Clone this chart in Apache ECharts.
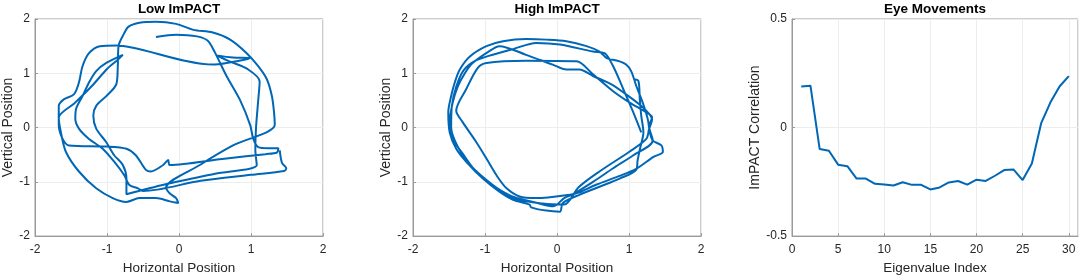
<!DOCTYPE html>
<html>
<head>
<meta charset="utf-8">
<script src="https://cdn.jsdelivr.net/npm/echarts@6/dist/echarts.min.js"></script>
<style>html,body{margin:0;padding:0;background:#fff}#c{width:1084px;height:280px}</style>
</head>
<body>
<div id="c"></div>
<script>
const panelTitles = ['Low ImPACT', 'High ImPACT', 'Eye Movements'];
const xNames = ['Horizontal Position', 'Horizontal Position', 'Eigenvalue Index'];
const yNames = ['Vertical Position', 'Vertical Position', 'ImPACT Correlation'];

// Low ImPACT trajectory [horizontal, vertical]
const lowPath = [
 [-0.32,1.67],[-0.04,1.71],[0.25,1.68],[0.40,1.60],[0.50,1.38],[0.66,0.95],[0.85,0.50],[0.99,0.04],[1.03,-0.20],[1.10,-0.36],[1.25,-0.38],[1.38,-0.38],[1.36,-0.46],
 [1.20,-0.49],[0.60,-0.58],[-0.13,-0.69],[-0.15,-0.60],[-0.22,-0.69],[-0.39,-0.81],[-0.46,-0.78],[-0.60,-0.51],[-0.73,-0.39],[-1.00,-0.35],[-1.53,-0.33],[-1.62,-0.20],[-1.67,0.05],[-1.67,0.22],
 [-1.67,0.40],[-1.60,0.52],[-1.46,0.61],[-1.39,0.83],[-1.34,1.13],[-1.25,1.37],[-1.10,1.50],[-0.87,1.51],[-0.64,1.47],[0.47,1.16],[0.66,1.19],[0.94,1.26],[0.98,1.28],[0.75,1.29],[0.52,1.33],
 [0.70,1.22],[0.95,1.08],[1.12,0.85],[1.10,0.50],[1.07,0.00],[1.06,-0.40],[1.08,-0.69],
 [0.50,-0.85],[-0.20,-1.05],[-0.73,-1.23],
 [-0.73,-0.94],[-0.78,-0.69],[-0.90,-0.51],[-1.01,-0.27],[-1.15,-0.02],[-1.19,0.22],[-1.15,0.40],[-1.01,0.58],[-0.87,0.80],[-0.85,1.13],[-0.84,1.50],[-0.76,1.74],
 [-0.70,1.86],[-0.55,1.93],[-0.32,1.95],[-0.04,1.91],[0.20,1.80],[0.47,1.75],[0.71,1.62],[0.94,1.37],[1.10,1.13],[1.22,0.89],[1.29,0.58],[1.32,0.28],[1.33,0.05],
 [0.75,-0.33],[0.29,-0.69],[-0.18,-1.11],
 [-0.13,-1.21],[-0.04,-1.30],[-0.01,-1.39],[-0.13,-1.36],[-0.32,-1.30],[-0.55,-1.30],[-0.73,-1.37],[-0.92,-1.30],[-1.15,-1.12],[-1.39,-0.81],[-1.57,-0.45],[-1.64,-0.09],[-1.67,0.18],
 [-1.45,0.45],[-1.20,0.78],[-1.00,1.08],[-0.85,1.25],[-0.78,1.34],
 [-1.01,1.19],[-1.15,1.04],[-1.25,0.83],[-1.34,0.58],[-1.43,0.34],[-1.44,0.16],[-1.39,-0.02],[-1.25,-0.21],[-1.06,-0.39],[-0.90,-0.63],[-0.76,-0.88],[-0.69,-1.06],[-0.57,-1.12],[-0.50,-1.17],
 [0.30,-0.98],[1.00,-0.87],[1.46,-0.80],[1.49,-0.75],[1.43,-0.65],[1.40,-0.42]
];

// High ImPACT trajectory [horizontal, vertical]
const highPath = [
 [1.06,0.89],[1.13,0.86],[1.15,0.52],[1.17,0.22],[1.20,-0.09],[1.16,-0.35],[1.12,-0.60],[1.10,-0.78],
 [0.87,-0.94],[0.59,-1.09],[0.31,-1.24],[0.08,-1.39],[0.04,-1.55],[-0.15,-1.53],[-0.36,-1.47],[-0.38,-1.42],[-0.61,-1.33],[-0.80,-1.18],[-1.03,-0.94],[-1.26,-0.63],[-1.40,-0.39],[-1.49,-0.09],[-1.51,0.28],[-1.47,0.58],[-1.42,0.83],[-1.35,1.07],[-1.21,1.31],[-0.98,1.50],[-0.75,1.59],[-0.43,1.63],[-0.15,1.62],[0.13,1.59],[0.41,1.50],[0.59,1.40],[0.69,1.28],[0.87,1.22],[0.96,1.16],[1.03,1.04],[1.10,0.77],[1.19,0.46],[1.26,0.16],[1.29,-0.09],[1.33,-0.24],[1.45,-0.33],[1.47,-0.45],[1.34,-0.54],
 [1.10,-0.76],[0.85,-0.90],[0.55,-1.05],[0.30,-1.20],[0.22,-1.23],[-0.29,-1.30],[-0.52,-1.27],[-0.70,-1.12],[-0.84,-0.88],[-0.98,-0.57],[-1.12,-0.27],[-1.31,0.10],[-1.40,0.31],[-1.26,0.71],[-1.10,1.10],[-0.98,1.19],[-0.43,1.23],[0.27,1.22],[0.50,0.98],[0.78,0.67],[1.01,0.46],[1.24,0.28],[1.32,0.19],[1.28,0.02],[1.33,-0.24],
 [1.06,-0.51],[0.78,-0.75],[0.50,-1.00],[0.22,-1.23],[0.10,-1.30],[-0.05,-1.45],[-0.30,-1.38],[-0.60,-1.28],[-0.85,-1.10],[-1.10,-0.85],[-1.30,-0.50],[-1.45,-0.20],[-1.49,0.10],[-1.45,0.45],[-1.38,0.75],[-1.28,1.00],[-1.18,1.18],[-0.95,1.40],[-0.80,1.50],
 [-0.43,1.34],[-0.06,1.16],[0.13,1.07],[0.31,1.07],[0.50,0.95],[0.75,0.80],[0.95,0.62],[1.15,0.42],[1.28,0.25],[1.32,0.15],[1.28,-0.02],[1.24,-0.21],
 [1.00,-0.45],[0.60,-0.80],[0.30,-1.10],[0.10,-1.42],[-0.20,-1.40],[-0.60,-1.30],[-0.90,-1.05],[-1.20,-0.70],[-1.38,-0.35],[-1.47,0.00],[-1.46,0.40],[-1.40,0.75],[-1.30,1.05],[-1.15,1.22],[-0.95,1.32],[-0.60,1.45],[-0.29,1.56],[0.04,1.53],[0.50,1.40],[0.66,1.37],[0.78,1.13],[0.92,0.71],[1.06,0.28],[1.17,-0.09]
];

// Eye movements
const eigenIndex = [1,2,3,4,5,6,7,8,9,10,11,12,13,14,15,16,17,18,19,20,21,22,23,24,25,26,27,28,29,30];
const eyeCorr = [0.189,0.193,-0.099,-0.107,-0.171,-0.178,-0.235,-0.235,-0.259,-0.262,-0.267,-0.252,-0.264,-0.264,-0.285,-0.276,-0.253,-0.246,-0.263,-0.240,-0.246,-0.222,-0.196,-0.193,-0.242,-0.166,0.019,0.115,0.189,0.237];

const posRange = [-2, 2];
const posInterval = 1;
const corrRange = [-0.5, 0.5];
const corrInterval = 0.5;
const idxRange = [0, 31];
const idxInterval = 5;

const FONT = "'Liberation Sans', Arial, Helvetica, sans-serif";
const BLUE = '#0066b6';
const FRAME = '#9a9a9a';
const GRID = '#ededed';

const grids = [
  {left: 35, top: 19, width: 288, height: 219},
  {left: 413, top: 19, width: 288, height: 219},
  {left: 792, top: 19, width: 286, height: 219}
];
const titleCenters = [179, 557, 935];

function xAxisFor(i, min, max, interval) {
  return {
    type: 'value', gridIndex: i, min, max, interval,
    name: xNames[i], nameLocation: 'middle', nameGap: 22,
    nameTextStyle: {fontFamily: FONT, fontSize: 13.5, color: '#262626'},
    axisLine: {show: true, onZero: false, lineStyle: {color: FRAME, width: 1}},
    axisTick: {show: true, inside: true, length: 3, lineStyle: {color: FRAME}},
    axisLabel: {fontFamily: FONT, fontSize: 12, color: '#262626', margin: 8},
    splitLine: {show: true, lineStyle: {color: GRID, width: 1}}
  };
}
function yAxisFor(i, min, max, interval, gap, fmt) {
  return {
    type: 'value', gridIndex: i, min, max, interval,
    name: yNames[i], nameLocation: 'middle', nameGap: gap,
    nameTextStyle: {fontFamily: FONT, fontSize: 14, color: '#262626'},
    axisLine: {show: true, onZero: false, lineStyle: {color: FRAME, width: 1}},
    axisTick: {show: true, inside: true, length: 3, lineStyle: {color: FRAME}},
    axisLabel: {fontFamily: FONT, fontSize: 12, color: '#262626', margin: 5, formatter: fmt},
    splitLine: {show: true, lineStyle: {color: GRID, width: 1}}
  };
}

const chart = echarts.init(document.getElementById('c'), null, {renderer: 'canvas'});
chart.setOption({
  animation: false,
  backgroundColor: '#fff',
  title: panelTitles.map((t, i) => ({
    text: t, left: titleCenters[i], top: 2, textAlign: 'center', padding: 0,
    textStyle: {fontFamily: FONT, fontSize: 13.5, fontWeight: 'bold', color: '#000'}
  })),
  grid: grids.map(g => Object.assign({show: true, borderColor: FRAME, borderWidth: 1, backgroundColor: 'transparent'}, g)),
  xAxis: [
    xAxisFor(0, posRange[0], posRange[1], posInterval),
    xAxisFor(1, posRange[0], posRange[1], posInterval),
    xAxisFor(2, idxRange[0], idxRange[1], idxInterval)
  ],
  yAxis: [
    yAxisFor(0, posRange[0], posRange[1], posInterval, 18),
    yAxisFor(1, posRange[0], posRange[1], posInterval, 18),
    yAxisFor(2, corrRange[0], corrRange[1], corrInterval, 30, v => (v === 0 ? '0' : String(v)))
  ],
  series: [
    {type: 'line', xAxisIndex: 0, yAxisIndex: 0, data: lowPath, showSymbol: false, smooth: 0.3,
     lineStyle: {color: BLUE, width: 2}},
    {type: 'line', xAxisIndex: 1, yAxisIndex: 1, data: highPath, showSymbol: false, smooth: 0.3,
     lineStyle: {color: BLUE, width: 2}},
    {type: 'line', xAxisIndex: 2, yAxisIndex: 2, data: eigenIndex.map((x, k) => [x, eyeCorr[k]]), showSymbol: false,
     lineStyle: {color: BLUE, width: 2}}
  ]
});
</script>
</body>
</html>
